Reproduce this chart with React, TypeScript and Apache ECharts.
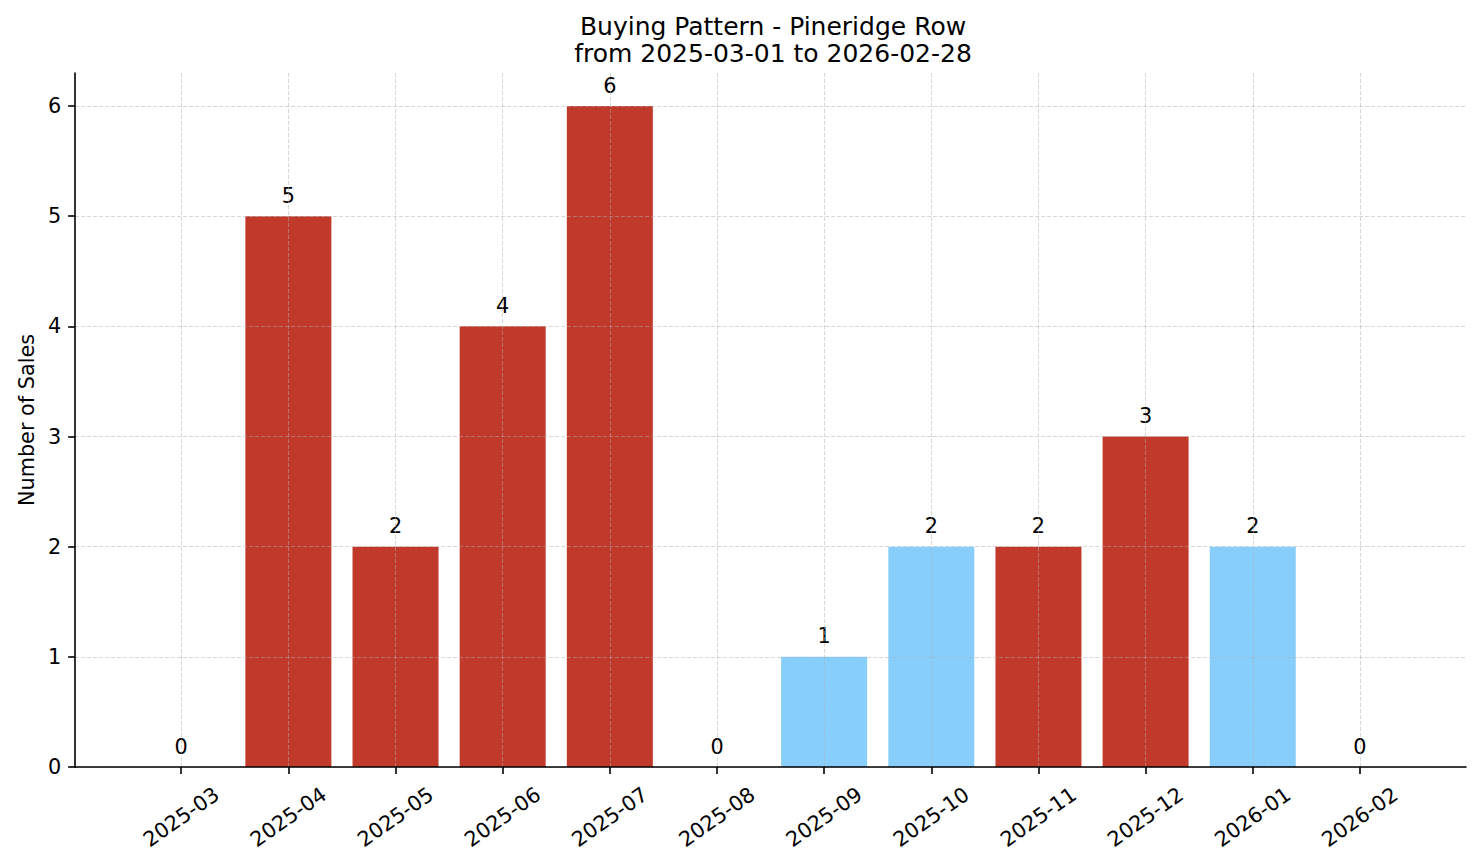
import React, { useEffect, useRef } from "react";
import * as echarts from "echarts";

const months = [
  "2025-03", "2025-04", "2025-05", "2025-06", "2025-07", "2025-08",
  "2025-09", "2025-10", "2025-11", "2025-12", "2026-01", "2026-02",
];
const sales = [0, 5, 2, 4, 6, 0, 1, 2, 2, 3, 2, 0];
const segment = ["A", "A", "A", "A", "A", "A", "B", "B", "A", "A", "B", "A"];
const yTicks = [0, 1, 2, 3, 4, 5, 6];

const FONT = "DejaVu Sans";
const RED = "#c0392b";
const BLUE = "#87cefa";
const FS = 20.8;

export default function App() {
  const ref = useRef<HTMLDivElement>(null);
  useEffect(() => {
    if (!ref.current) return;
    const chart = echarts.init(ref.current, undefined, { renderer: "svg" });
    const xIdx = months.map((_, i) => i);
    const gridStyle = { color: "rgba(176,176,176,0.5)", width: 1, type: [4, 2] as any };
    chart.setOption({
      animation: false,
      textStyle: { fontFamily: FONT },
      title: {
        text: "Buying Pattern - Pineridge Row\nfrom 2025-03-01 to 2026-02-28",
        left: 760,
        top: 0,
        textAlign: "center",
        textStyle: { fontFamily: FONT, fontSize: 25, fontWeight: "normal", color: "#000", lineHeight: 27 },
      },
      grid: { left: 63, right: 7, top: 65, bottom: 88, containLabel: false },
      xAxis: {
        type: "value",
        min: -0.99,
        max: 11.99,
        z: 3,
        axisLine: { show: true, onZero: false, lineStyle: { color: "#000", width: 1.6 } },
        axisTick: { show: true, length: 7, lineStyle: { color: "#000", width: 1.6 }, customValues: xIdx },
        axisLabel: {
          customValues: xIdx,
          rotate: 35,
          align: "center",
          verticalAlign: "middle",
          margin: 50,
          fontSize: FS,
          fontFamily: FONT,
          color: "#000",
          formatter: (v: number) => months[Math.round(v)] ?? "",
        },
        splitLine: { show: true, lineStyle: gridStyle },
      },
      yAxis: {
        type: "value",
        min: 0,
        max: 6.3,
        z: 3,
        name: "Number of Sales",
        nameLocation: "middle",
        nameGap: 38,
        nameTextStyle: { fontFamily: FONT, fontSize: FS, color: "#000" },
        axisLine: { show: true, onZero: false, lineStyle: { color: "#000", width: 1.6 } },
        axisTick: { show: true, length: 7, lineStyle: { color: "#000", width: 1.6 }, customValues: yTicks },
        axisLabel: {
          customValues: yTicks,
          margin: 14,
          fontSize: FS,
          fontFamily: FONT,
          color: "#000",
        },
        splitLine: { show: true, lineStyle: gridStyle },
      },
      series: [
        {
          type: "bar",
          barWidth: 86,
          data: sales.map((v, i) => ({
            value: [i, v],
            itemStyle: { color: segment[i] === "B" ? BLUE : RED },
          })),
          label: {
            show: true,
            position: "top",
            distance: 10,
            fontSize: FS,
            fontFamily: FONT,
            color: "#000",
            formatter: (p: any) => String(p.value[1]),
          },
        },
      ],
    });
    return () => chart.dispose();
  }, []);
  return <div ref={ref} style={{ width: 1465, height: 847 }} />;
}
